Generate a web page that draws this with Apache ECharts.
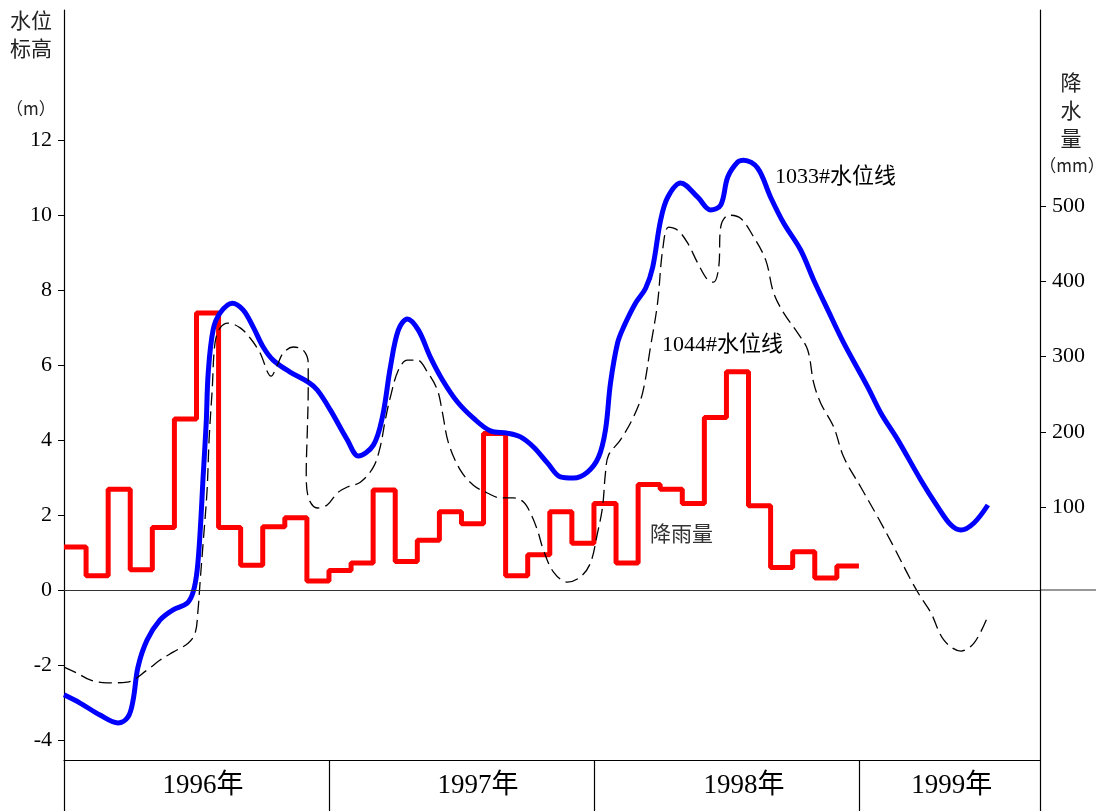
<!DOCTYPE html>
<html>
<head>
<meta charset="utf-8">
<title>水位与降雨量</title>
<script src="https://cdn.jsdelivr.net/npm/echarts@6/dist/echarts.min.js"></script>
<style>
    html, body {margin: 0; padding: 0; background: #fff;}
    #main {width: 1102px; height: 811px;}
</style>
</head>
<body>
<div id="main"></div>
<script>
// 降雨量(mm)，每月一个值
var rain1996 = [47, 9, 124, 17, 73, 217, 358, 73, 23, 74, 86, 2];
var rain1997 = [16, 26, 123, 28, 56, 94, 78, 198, 9, 37, 94, 52];
var rain1998 = [105, 26, 130, 124, 105, 219, 280, 102, 20, 41, 6, 22];

// 水位标高 [月份(1996年1月起算), m]
var level1033 = [
    [0, -2.80], [0.73, -3.02], [1.63, -3.34], [2.45, -3.55], [2.90, -3.39], [3.13, -2.94], [3.35, -2.06],
    [3.76, -1.34], [4.35, -0.80], [4.94, -0.53], [5.58, -0.35], [5.85, -0.05], [6.03, 0.53], [6.17, 1.60],
    [6.30, 3.02], [6.44, 4.46], [6.53, 5.79], [6.75, 6.94], [7.07, 7.40], [7.62, 7.66], [8.11, 7.48],
    [8.57, 7.02], [9.02, 6.49], [9.47, 6.14], [10.24, 5.82], [11.06, 5.55], [11.47, 5.34], [12.06, 4.81],
    [12.83, 4.01], [13.33, 3.58], [14.01, 3.87], [14.42, 4.62], [14.78, 5.95], [15.14, 6.94], [15.55, 7.24],
    [16.05, 6.94], [16.59, 6.22], [17.14, 5.61], [17.82, 5.02], [18.54, 4.59], [19.31, 4.25], [20.08, 4.19],
    [20.67, 4.09], [21.26, 3.82], [21.90, 3.39], [22.48, 3.02], [23.07, 2.99], [23.71, 3.15], [24.21, 3.55],
    [24.52, 4.27], [24.75, 5.53], [25.07, 6.60], [25.34, 7.02], [25.88, 7.66], [26.34, 8.06], [26.66, 8.62],
    [27.02, 9.88], [27.34, 10.49], [27.92, 10.87], [28.70, 10.49], [29.28, 10.15], [29.74, 10.28], [30.06, 11.03],
    [30.51, 11.43], [30.78, 11.48], [31.41, 11.27], [32.00, 10.49], [32.59, 9.80], [33.36, 9.08], [33.95, 8.28],
    [34.59, 7.48], [35.31, 6.60], [36.40, 5.42], [36.99, 4.73], [37.76, 4.01], [38.80, 2.94], [39.57, 2.22],
    [40.16, 1.74], [40.62, 1.60], [41.21, 1.79], [41.84, 2.27]
];
var level1044 = [
    [0, -2.06], [0.59, -2.22], [1.18, -2.40], [1.95, -2.48], [2.86, -2.46], [3.76, -2.14], [4.35, -1.87],
    [4.94, -1.66], [5.62, -1.42], [5.94, -1.15], [6.07, -0.53], [6.17, 0.27], [6.30, 1.25], [6.48, 2.67],
    [6.57, 4.01], [6.71, 5.34], [6.84, 6.60], [7.07, 7.00], [7.43, 7.13], [7.98, 7.00], [8.43, 6.73],
    [8.88, 6.33], [9.38, 5.71], [9.66, 6.01], [9.93, 6.33], [10.38, 6.49], [10.83, 6.41], [11.06, 6.06],
    [11.06, 5.34], [11.02, 4.27], [10.97, 3.12], [11.06, 2.48], [11.47, 2.19], [11.92, 2.27], [12.38, 2.59],
    [12.83, 2.75], [13.42, 2.88], [14.01, 3.28], [14.32, 3.82], [14.55, 4.54], [14.78, 5.15], [15.14, 5.87],
    [15.55, 6.14], [16.00, 6.14], [16.46, 5.82], [16.91, 5.34], [17.14, 4.73], [17.41, 3.93], [17.95, 3.20],
    [18.54, 2.80], [19.17, 2.59], [19.76, 2.46], [20.35, 2.46], [20.81, 2.35], [21.12, 2.06], [21.44, 1.60],
    [21.71, 1.07], [22.17, 0.48], [22.80, 0.21], [23.39, 0.35], [23.84, 0.72], [24.16, 1.52], [24.39, 2.22],
    [24.52, 3.12], [24.66, 3.60], [25.20, 4.01], [25.79, 4.62], [26.20, 5.26], [26.56, 6.49], [26.88, 7.66],
    [27.11, 9.08], [27.38, 9.69], [27.79, 9.61], [28.24, 9.27], [28.70, 8.73], [29.15, 8.28], [29.42, 8.22],
    [29.65, 8.62], [29.74, 9.69], [30.10, 10.01], [30.64, 9.93], [31.23, 9.43], [31.78, 8.81], [32.14, 7.93],
    [32.59, 7.40], [33.23, 6.86], [33.68, 6.41], [33.95, 5.53], [34.27, 4.99], [34.86, 4.35], [35.31, 3.55],
    [36.08, 2.75], [36.85, 1.95], [37.58, 1.15], [38.35, 0.27], [38.80, -0.19], [39.26, -0.61], [39.85, -1.34],
    [40.62, -1.63], [41.21, -1.42], [41.80, -0.75]
];

var leftTicks = [-4, -2, 0, 2, 4, 6, 8, 10, 12];
var rightTicks = [100, 200, 300, 400, 500];
var years = ['1996年', '1997年', '1998年', '1999年'];

var serif = "'Liberation Serif', 'Noto Sans CJK SC', serif";
var cjk = "'Noto Sans CJK SC', sans-serif";
var xMax = 44.2;
var yearLabelAt = [6.3, 18.75, 30.8, 40.2];

// 月降雨量画成阶梯线
var rain = rain1996.concat(rain1997, rain1998);
var rainData = [];
for (var i = 0; i < rain.length; i++) {
    rainData.push([i, rain[i]]);
}
rainData.push([rain.length, rain[rain.length - 1]]);

var dom = document.getElementById('main');
var myChart = echarts.init(dom);

option = {
    animation: false,
    backgroundColor: '#fff',
    grid: {left: 64, right: 62, top: 10, bottom: 51},
    xAxis: {
        type: 'value',
        min: 0,
        max: xMax,
        axisLine: {onZero: false, lineStyle: {color: '#000', width: 1.2}},
        axisTick: {
            show: true,
            customValues: [0, 12, 24, 36, xMax],
            length: 51,
            lineStyle: {color: '#000', width: 1.2}
        },
        axisLabel: {
            customValues: yearLabelAt,
            margin: 12,
            color: '#000',
            fontSize: 27,
            fontFamily: serif,
            formatter: function (v) {
                var k = yearLabelAt.indexOf(v);
                return k >= 0 ? years[k] : '';
            }
        },
        splitLine: {show: false}
    },
    yAxis: [
        {
            type: 'value',
            position: 'left',
            min: -4.54,
            max: 15.49,
            axisLine: {show: true, onZero: false, lineStyle: {color: '#000', width: 1.2}},
            axisTick: {show: true, customValues: leftTicks, length: 6, lineStyle: {color: '#000'}},
            axisLabel: {customValues: leftTicks, margin: 12, color: '#000', fontSize: 22, fontFamily: serif},
            splitLine: {show: false}
        },
        {
            type: 'value',
            position: 'right',
            min: -235.7,
            max: 760.3,
            axisLine: {show: true, onZero: false, lineStyle: {color: '#000', width: 1.2}},
            axisTick: {show: true, customValues: rightTicks, length: 6, lineStyle: {color: '#000'}},
            axisLabel: {customValues: rightTicks, margin: 12, color: '#000', fontSize: 22, fontFamily: serif},
            splitLine: {show: false}
        }
    ],
    series: [
        {
            name: '降雨量',
            type: 'line',
            yAxisIndex: 1,
            step: 'end',
            symbol: 'none',
            lineStyle: {color: '#ff0000', width: 5},
            data: rainData
        },
        {
            name: '1033#水位线',
            type: 'line',
            yAxisIndex: 0,
            smooth: 0.35,
            symbol: 'none',
            lineStyle: {color: '#0000ff', width: 5},
            markLine: {
                silent: true,
                symbol: 'none',
                label: {show: false},
                lineStyle: {color: '#333', width: 1.2, type: 'solid'},
                data: [{yAxis: 0}]
            },
            data: level1033
        },
        {
            name: '1044#水位线',
            type: 'line',
            yAxisIndex: 0,
            smooth: 0.35,
            symbol: 'none',
            lineStyle: {color: '#000', width: 1.3, type: [13, 6]},
            data: level1044
        }
    ]
};

myChart.setOption(option);

// 零线延伸到右轴外，标注文字
var y0 = myChart.convertToPixel({yAxisIndex: 0}, 0);
var xR = myChart.convertToPixel({xAxisIndex: 0}, xMax);

myChart.setOption({
    graphic: [
        {type: 'line', shape: {x1: xR, y1: y0, x2: 1096, y2: y0}, style: {stroke: '#333', lineWidth: 1.2}},
        {type: 'text', left: 10, top: 6, style: {text: '水位\n标高', font: '21px ' + cjk, lineHeight: 28, fill: '#222'}},
        {type: 'text', left: 6, top: 100, style: {text: '（m）', font: '17px ' + cjk, fill: '#222'}},
        {type: 'text', x: 1071, y: 68, style: {text: '降\n水\n量', font: '21px ' + cjk, lineHeight: 28, fill: '#222', align: 'center'}},
        {type: 'text', x: 1072, y: 166, style: {text: '（mm）', font: '17px ' + cjk, fill: '#222', align: 'center', verticalAlign: 'middle'}},
        {type: 'text', x: 775, y: 177, style: {text: '1033#水位线', font: '22px ' + serif, fill: '#000', verticalAlign: 'middle'}},
        {type: 'text', x: 662, y: 345, style: {text: '1044#水位线', font: '22px ' + serif, fill: '#000', verticalAlign: 'middle'}},
        {type: 'text', x: 650, y: 533, style: {text: '降雨量', font: '21px ' + cjk, fill: '#333', verticalAlign: 'middle'}}
    ]
});
</script>
</body>
</html>
